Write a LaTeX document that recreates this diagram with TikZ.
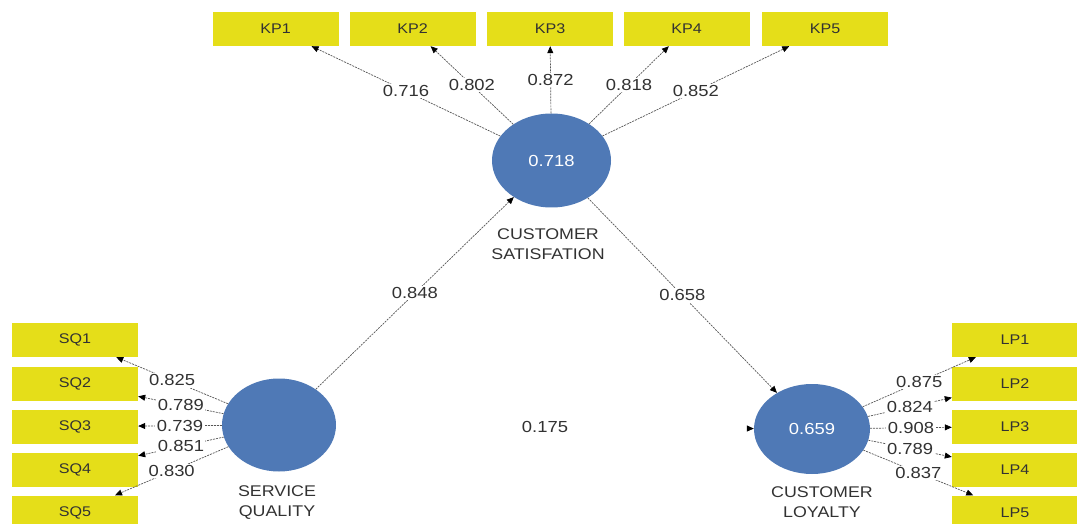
\documentclass[tikz,border=0pt]{standalone}
\usepackage{fontspec}
\newfontfamily\pls[FakeStretch=1.15]{Liberation Sans}
\usetikzlibrary{shapes.geometric,arrows.meta}
\definecolor{indyellow}{RGB}{229,222,25}
\definecolor{latblue}{RGB}{79,121,182}
\definecolor{txtgray}{RGB}{50,50,50}
\definecolor{linegray}{RGB}{85,85,85}
\tikzset{
  ind/.style={fill=indyellow, minimum width=126pt, minimum height=34pt, inner sep=0pt,
    font=\pls\fontsize{14}{16}\selectfont, text=txtgray},
  lat/.style={ellipse, fill=latblue, inner sep=0pt, text=white,
    font=\pls\fontsize{16}{18}\selectfont},
  lname/.style={align=center, font=\pls\fontsize{15.5}{20}\selectfont, text=txtgray},
  conn/.style={draw=linegray, line width=0.7pt, dash pattern=on 2pt off 1pt,
    -{Triangle[length=7pt,width=6pt,color=black]}},
  val/.style={fill=white, inner sep=1.5pt, font=\pls\fontsize{16}{18}\selectfont,
    text=txtgray, midway},
}
\begin{document}
\begin{tikzpicture}[x=1pt,y=-1pt]
\useasboundingbox (0,0) rectangle (1077,524);
\clip (0,0) rectangle (1077,524);

% indicator boxes: customer satisfaction
\node[ind] (kp1) at (275.5,29) {KP1};
\node[ind] (kp2) at (412.5,29) {KP2};
\node[ind] (kp3) at (550,29) {KP3};
\node[ind] (kp4) at (686.5,29) {KP4};
\node[ind] (kp5) at (825,29) {KP5};

% indicator boxes: service quality
\node[ind] (sq1) at (75,340) {SQ1};
\node[ind] (sq2) at (75,383.5) {SQ2};
\node[ind] (sq3) at (75,426.5) {SQ3};
\node[ind] (sq4) at (75,469.5) {SQ4};
\node[ind] (sq5) at (75,512.5) {SQ5};

% indicator boxes: customer loyalty
\node[ind] (lp1) at (1015,340) {LP1};
\node[ind] (lp2) at (1015,383.5) {LP2};
\node[ind] (lp3) at (1015,426.5) {LP3};
\node[ind] (lp4) at (1015,469.5) {LP4};
\node[ind] (lp5) at (1015,512.5) {LP5};

% latent variables
\node[lat, minimum width=119pt, minimum height=94pt] (cs) at (551.5,160.5) {0.718};
\node[lat, minimum width=114pt, minimum height=93pt] (sq) at (279,425) {};
\node[lat, minimum width=116pt, minimum height=90pt] (cl) at (812,429) {0.659};

% latent variable names
\node[lname] (csname) at (548,244.5) {CUSTOMER\\SATISFATION};
\node[lname] (sqname) at (277,502.5) {SERVICE\\QUALITY};
\node[lname] (clname) at (822,502.5) {CUSTOMER\\LOYALTY};

% outer loadings
\draw[conn] (cs) -- node[val] {0.716} (kp1);
\draw[conn] (cs) -- node[val] {0.802} (kp2);
\draw[conn] (cs) -- node[val] {0.872} (kp3);
\draw[conn] (cs) -- node[val] {0.818} (kp4);
\draw[conn] (cs) -- node[val] {0.852} (kp5);

\draw[conn] (sq) -- node[val] {0.825} (sq1);
\draw[conn] (sq) -- node[val] {0.789} (sq2);
\draw[conn] (sq) -- node[val] {0.739} (sq3);
\draw[conn] (sq) -- node[val] {0.851} (sq4);
\draw[conn] (sq) -- node[val] {0.830} (sq5);

\draw[conn] (cl) -- node[val] {0.875} (lp1);
\draw[conn] (cl) -- node[val] {0.824} (lp2);
\draw[conn] (cl) -- node[val] {0.908} (lp3);
\draw[conn] (cl) -- node[val] {0.789} (lp4);
\draw[conn] (cl) -- node[val] {0.837} (lp5);

% path coefficients
\draw[conn] (sq) -- node[val] {0.848} (cs);
\draw[conn] (cs) -- node[val] {0.658} (cl);
\draw[conn, draw=white] (sq) -- node[val] {0.175} (cl);
\end{tikzpicture}
\end{document}
